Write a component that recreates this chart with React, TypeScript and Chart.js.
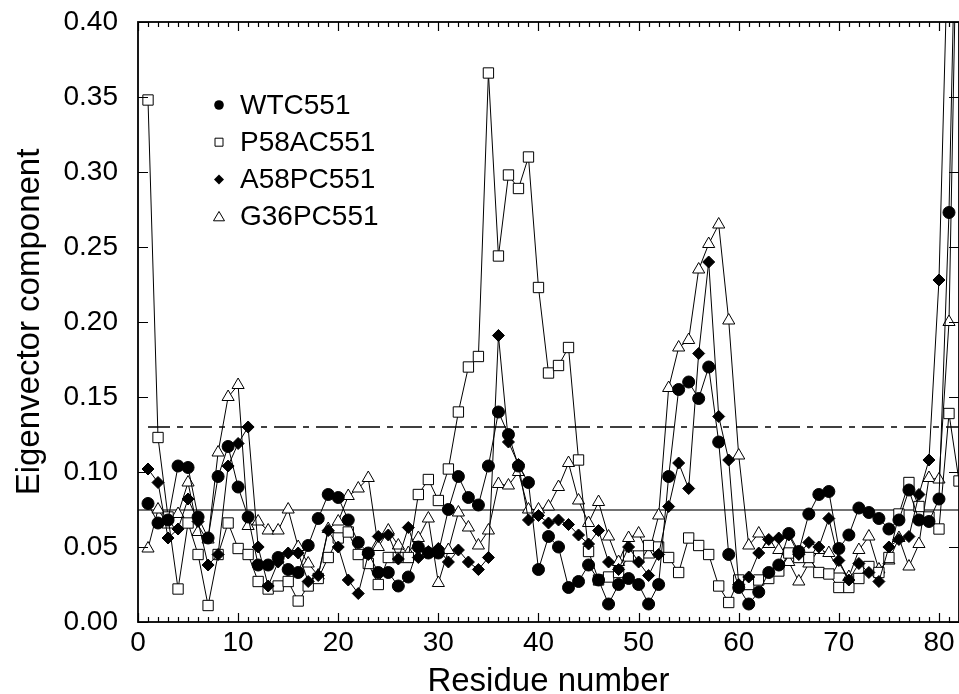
import React, { useEffect, useRef } from 'react';
import { Chart, registerables } from 'chart.js';

Chart.register(...registerables);

const FONT = '"Liberation Sans", Arial, Helvetica, sans-serif';

const residues = [
  1, 2, 3, 4, 5, 6, 7, 8, 9, 10, 11, 12, 13, 14, 15, 16, 17, 18, 19, 20,
  21, 22, 23, 24, 25, 26, 27, 28, 29, 30, 31, 32, 33, 34, 35, 36, 37, 38, 39, 40,
  41, 42, 43, 44, 45, 46, 47, 48, 49, 50, 51, 52, 53, 54, 55, 56, 57, 58, 59, 60,
  61, 62, 63, 64, 65, 66, 67, 68, 69, 70, 71, 72, 73, 74, 75, 76, 77, 78, 79, 80,
  81, 82,
];

const wtc551 = [
  0.079, 0.066, 0.068, 0.104, 0.103, 0.070, 0.056, 0.097, 0.117, 0.090,
  0.070, 0.038, 0.038, 0.043, 0.035, 0.033, 0.051, 0.069, 0.085, 0.083,
  0.068, 0.053, 0.046, 0.033, 0.033, 0.024, 0.030, 0.050, 0.046, 0.046,
  0.075, 0.097, 0.083, 0.078, 0.104, 0.140, 0.125, 0.104, 0.093, 0.035,
  0.057, 0.050, 0.023, 0.027, 0.038, 0.028, 0.012, 0.025, 0.029, 0.025,
  0.012, 0.025, 0.097, 0.155, 0.160, 0.149, 0.170, 0.120, 0.045, 0.023,
  0.012, 0.020, 0.033, 0.038, 0.059, 0.047, 0.072, 0.085, 0.087, 0.049,
  0.058, 0.076, 0.073, 0.069, 0.062, 0.068, 0.088, 0.068, 0.067, 0.082,
  0.273, 0.580,
];

const p58ac551 = [
  0.348, 0.123, 0.070, 0.022, 0.066, 0.045, 0.011, 0.045, 0.066, 0.049,
  0.045, 0.027, 0.022, 0.024, 0.027, 0.014, 0.024, 0.029, 0.043, 0.056,
  0.060, 0.045, 0.039, 0.025, 0.043, 0.043, 0.043, 0.085, 0.095, 0.081,
  0.102, 0.140, 0.170, 0.177, 0.366, 0.244, 0.298, 0.289, 0.310, 0.223,
  0.166, 0.171, 0.183, 0.108, 0.047, 0.028, 0.030, 0.033, 0.044, 0.044,
  0.051, 0.050, 0.043, 0.033, 0.056, 0.051, 0.045, 0.024, 0.013, 0.028,
  0.025, 0.028, 0.029, 0.034, 0.046, 0.043, 0.043, 0.033, 0.032, 0.023,
  0.023, 0.029, 0.037, 0.033, 0.043, 0.072, 0.093, 0.077, 0.070, 0.062,
  0.139, 0.094,
];

const a58pc551 = [
  0.102, 0.093, 0.056, 0.062, 0.082, 0.067, 0.038, 0.045, 0.104, 0.119,
  0.130, 0.050, 0.024, 0.040, 0.046, 0.046, 0.027, 0.031, 0.061, 0.050,
  0.028, 0.019, 0.045, 0.057, 0.058, 0.042, 0.063, 0.043, 0.047, 0.049,
  0.040, 0.048, 0.040, 0.035, 0.043, 0.191, 0.120, 0.105, 0.068, 0.071,
  0.066, 0.068, 0.065, 0.058, 0.052, 0.061, 0.040, 0.035, 0.050, 0.040,
  0.031, 0.045, 0.077, 0.106, 0.089, 0.179, 0.240, 0.137, 0.108, 0.025,
  0.030, 0.046, 0.055, 0.056, 0.058, 0.045, 0.053, 0.050, 0.069, 0.041,
  0.028, 0.039, 0.033, 0.027, 0.050, 0.055, 0.057, 0.085, 0.108, 0.228,
  0.480, 0.450,
];

const g36pc551 = [
  0.049, 0.075, 0.065, 0.072, 0.093, 0.060, 0.055, 0.113, 0.150, 0.158,
  0.064, 0.067, 0.061, 0.061, 0.075, 0.050, 0.039, 0.031, 0.062, 0.067,
  0.084, 0.089, 0.096, 0.050, 0.061, 0.051, 0.046, 0.056, 0.069, 0.026,
  0.048, 0.073, 0.063, 0.051, 0.061, 0.092, 0.091, 0.100, 0.075, 0.075,
  0.077, 0.090, 0.106, 0.081, 0.066, 0.080, 0.057, 0.040, 0.056, 0.059,
  0.045, 0.071, 0.156, 0.183, 0.188, 0.235, 0.252, 0.265, 0.201, 0.111,
  0.051, 0.059, 0.052, 0.048, 0.040, 0.027, 0.039, 0.048, 0.046, 0.035,
  0.030, 0.048, 0.057, 0.035, 0.041, 0.056, 0.037, 0.052, 0.096, 0.095,
  0.200, 0.550,
];

const seriesNames = ['WTC551', 'P58AC551', 'A58PC551', 'G36PC551'];
const xTickValues = [0, 10, 20, 30, 40, 50, 60, 70, 80];
const yTickValues = [0, 0.05, 0.1, 0.15, 0.2, 0.25, 0.3, 0.35, 0.4];
const upperThreshold = 0.13;
const lowerThreshold = 0.0747;
const thresholdStart = 1;
const xMin = 0;
const xMax = 82;
const yMin = 0;
const yMax = 0.4;

const toPoints = (vals: number[]) => residues.map((r, i) => ({ x: r, y: vals[i] }));

function drawMarker(ctx: CanvasRenderingContext2D, kind: string, x: number, y: number, s: number) {
  ctx.beginPath();
  if (kind === 'circle') {
    ctx.arc(x, y, s, 0, Math.PI * 2);
    ctx.fillStyle = '#000';
    ctx.fill();
  } else if (kind === 'rect') {
    ctx.rect(x - s, y - s, 2 * s, 2 * s);
    ctx.fillStyle = '#fff';
    ctx.fill();
    ctx.stroke();
  } else if (kind === 'rectRot') {
    ctx.moveTo(x - s, y);
    ctx.lineTo(x, y - s);
    ctx.lineTo(x + s, y);
    ctx.lineTo(x, y + s);
    ctx.closePath();
    ctx.fillStyle = '#000';
    ctx.fill();
  } else {
    const h = s * 1.7;
    ctx.moveTo(x, y - h * 0.55);
    ctx.lineTo(x + s, y + h * 0.45);
    ctx.lineTo(x - s, y + h * 0.45);
    ctx.closePath();
    ctx.fillStyle = '#fff';
    ctx.fill();
    ctx.stroke();
  }
}

const framePlugin = {
  id: 'frameAndTicks',
  afterDraw(chart: any) {
    const ctx = chart.ctx as CanvasRenderingContext2D;
    const { left, right, top, bottom } = chart.chartArea;
    const xs = chart.scales.x;
    const ys = chart.scales.y;
    ctx.save();
    ctx.strokeStyle = '#000';
    ctx.lineWidth = 1.2;
    ctx.beginPath();
    for (let v = xMin; v <= xMax; v += 1) {
      const px = Math.round(xs.getPixelForValue(v)) + 0.5;
      const len = v % 10 === 0 ? 9 : 5;
      ctx.moveTo(px, bottom);
      ctx.lineTo(px, bottom - len);
      ctx.moveTo(px, top);
      ctx.lineTo(px, top + len);
    }
    for (const v of yTickValues) {
      const py = Math.round(ys.getPixelForValue(v)) + 0.5;
      ctx.moveTo(left, py);
      ctx.lineTo(left + 10, py);
      ctx.moveTo(right, py);
      ctx.lineTo(right - 10, py);
    }
    ctx.stroke();
    ctx.lineWidth = 1.8;
    ctx.strokeRect(left, top, right - left, bottom - top);

    // legend
    const kinds = ['circle', 'rect', 'rectRot', 'triangle'];
    const sizes = [4.8, 4, 5, 5.5];
    const mx = left + 81;
    const tx = left + 102;
    ctx.font = `28px ${FONT}`;
    ctx.textBaseline = 'middle';
    ctx.textAlign = 'left';
    ctx.lineWidth = 1;
    seriesNames.forEach((name, i) => {
      const cy = top + 83 + i * 37.2;
      ctx.strokeStyle = '#000';
      drawMarker(ctx, kinds[i], mx, cy, sizes[i]);
      ctx.fillStyle = '#000';
      ctx.fillText(name, tx, cy + 1);
    });
    ctx.restore();
  },
};

export default function App() {
  const canvasRef = useRef<HTMLCanvasElement | null>(null);

  useEffect(() => {
    document.body.style.margin = '0';
    const canvas = canvasRef.current;
    if (!canvas) return;
    const common = {
      borderColor: '#000',
      borderWidth: 1,
      pointBorderColor: '#000',
      pointBorderWidth: 1,
      tension: 0,
      clip: 0,
      fill: false,
    };
    const chart = new Chart(canvas, {
      type: 'line',
      data: {
        datasets: [
          {
            ...common,
            label: seriesNames[0],
            data: toPoints(wtc551),
            pointStyle: 'circle',
            pointRadius: 6,
            pointBackgroundColor: '#000',
            order: 0,
          },
          {
            ...common,
            label: seriesNames[1],
            data: toPoints(p58ac551),
            pointStyle: 'rect',
            pointRadius: 7.3,
            pointBackgroundColor: '#fff',
            order: 2,
          },
          {
            ...common,
            label: seriesNames[2],
            data: toPoints(a58pc551),
            pointStyle: 'rectRot',
            pointRadius: 6,
            pointBackgroundColor: '#000',
            order: 1,
          },
          {
            ...common,
            label: seriesNames[3],
            data: toPoints(g36pc551),
            pointStyle: 'triangle',
            pointRadius: 7,
            pointBackgroundColor: '#fff',
            order: 3,
          },
          {
            label: 'upper',
            data: [
              { x: thresholdStart, y: upperThreshold },
              { x: xMax, y: upperThreshold },
            ],
            borderColor: '#000',
            borderWidth: 1.5,
            borderDash: [22, 7, 6, 7],
            pointRadius: 0,
            clip: 0,
            order: 10,
          },
          {
            label: 'lower',
            data: [
              { x: xMin, y: lowerThreshold },
              { x: xMax, y: lowerThreshold },
            ],
            borderColor: '#444',
            borderWidth: 1.5,
            pointRadius: 0,
            clip: 0,
            order: 10,
          },
        ],
      } as any,
      options: {
        responsive: false,
        animation: false,
        layout: { autoPadding: false, padding: { top: 22, right: 0, left: 0, bottom: 0 } },
        plugins: {
          legend: { display: false },
          tooltip: { enabled: false },
        },
        scales: {
          x: {
            type: 'linear',
            min: xMin,
            max: xMax,
            afterFit: (s: any) => {
              s.height = 72;
              s.paddingLeft = 0;
              s.paddingRight = 0;
            },
            afterBuildTicks: (s: any) => {
              s.ticks = xTickValues.map((v) => ({ value: v }));
            },
            grid: { display: false, drawTicks: false },
            border: { display: false },
            ticks: {
              color: '#000',
              font: { size: 28, family: FONT },
              padding: 4,
              maxRotation: 0,
              autoSkip: false,
              callback: (v: any) => String(v),
            },
            title: {
              display: true,
              text: 'Residue number',
              color: '#000',
              font: { size: 33, family: FONT, lineHeight: 0.76 },
              padding: { top: 0, bottom: 0 },
            },
          },
          y: {
            type: 'linear',
            min: yMin,
            max: yMax,
            afterFit: (s: any) => {
              s.width = 138;
              s.paddingTop = 0;
              s.paddingBottom = 0;
            },
            afterBuildTicks: (s: any) => {
              s.ticks = yTickValues.map((v) => ({ value: v }));
            },
            grid: { display: false, drawTicks: false },
            border: { display: false },
            ticks: {
              color: '#000',
              font: { size: 28, family: FONT },
              padding: 20,
              autoSkip: false,
              callback: (v: any) => Number(v).toFixed(2),
            },
            title: {
              display: true,
              text: 'Eigenvector component',
              color: '#000',
              font: { size: 33, family: FONT, lineHeight: 1 },
              padding: { top: 13, bottom: 0 },
            },
          },
        },
      } as any,
      plugins: [framePlugin],
    });
    return () => chart.destroy();
  }, []);

  return (
    <div style={{ width: 959, height: 694 }}>
      <canvas ref={canvasRef} width={959} height={694} style={{ display: 'block', width: 959, height: 694 }} />
    </div>
  );
}
